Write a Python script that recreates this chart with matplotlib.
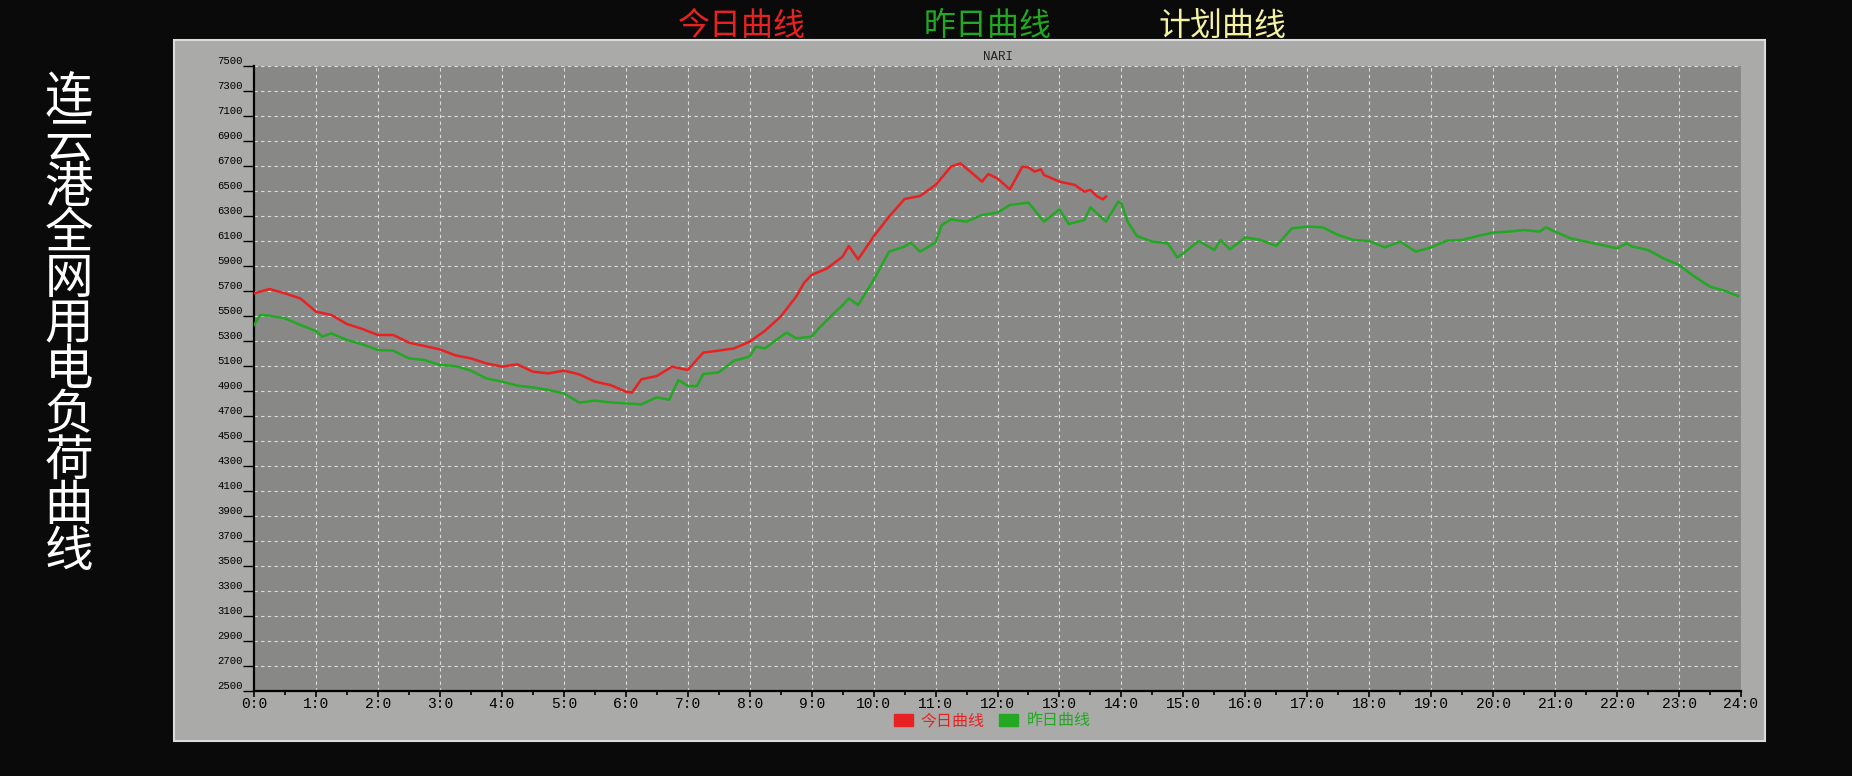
import matplotlib
matplotlib.use('Agg')
import matplotlib.pyplot as plt
from matplotlib.patches import Rectangle, Patch

plt.rcParams['font.family'] = ['Noto Sans CJK SC', 'DejaVu Sans']

# ── data (hours of day, load in MW) ─────────────────────
hours_today = [0, 0.25, 0.5, 0.75, 1.0, 1.25, 1.5, 1.75, 2.0, 2.25, 2.5, 2.75,
               3.0, 3.25, 3.5, 3.75, 4.0, 4.25, 4.5, 4.75, 5.0, 5.25, 5.5, 5.75,
               6.0, 6.1, 6.25, 6.5, 6.75, 7.0, 7.25, 7.5, 7.75, 8.0, 8.25, 8.5,
               8.75, 8.88, 9.0, 9.25, 9.5, 9.6, 9.75, 10.0, 10.25, 10.5, 10.75,
               11.0, 11.25, 11.4, 11.5, 11.75, 11.85, 12.0, 12.2, 12.4, 12.5,
               12.6, 12.7, 12.75, 13.0, 13.25, 13.4, 13.5, 13.6, 13.7, 13.75]
load_today = [5681, 5716, 5681, 5640, 5535, 5508, 5436, 5396, 5348, 5348, 5287, 5260,
              5233, 5185, 5161, 5121, 5095, 5113, 5055, 5041, 5063, 5033, 4975, 4948,
              4895, 4887, 4993, 5020, 5095, 5068, 5207, 5223, 5241, 5295, 5383, 5495,
              5655, 5767, 5828, 5881, 5975, 6060, 5953, 6135, 6295, 6436, 6460,
              6548, 6695, 6721, 6681, 6575, 6636, 6600, 6513, 6695, 6689,
              6655, 6673, 6628, 6575, 6548, 6495, 6508, 6460, 6433, 6455]

hours_yest = [0, 0.1, 0.25, 0.5, 0.75, 1.0, 1.1, 1.25, 1.5, 1.75, 2.0, 2.25, 2.5,
              2.75, 3.0, 3.25, 3.5, 3.75, 4.0, 4.25, 4.5, 4.75, 5.0, 5.25, 5.5,
              5.75, 6.0, 6.25, 6.5, 6.7, 6.85, 7.0, 7.15, 7.25, 7.5, 7.75, 8.0,
              8.1, 8.25, 8.5, 8.6, 8.75, 9.0, 9.1, 9.25, 9.5, 9.6, 9.75, 10.0,
              10.25, 10.5, 10.6, 10.75, 11.0, 11.1, 11.25, 11.5, 11.75, 12.0,
              12.2, 12.5, 12.75, 13.0, 13.15, 13.4, 13.5, 13.75, 13.95, 14.0,
              14.1, 14.25, 14.5, 14.75, 14.9, 15.0, 15.25, 15.5, 15.6, 15.75,
              16.0, 16.25, 16.5, 16.75, 17.0, 17.25, 17.5, 17.75, 18.0, 18.25,
              18.5, 18.75, 19.0, 19.25, 19.5, 19.75, 20.0, 20.25, 20.5, 20.75,
              20.85, 21.0, 21.25, 21.5, 21.75, 22.0, 22.15, 22.25, 22.5, 22.75,
              23.0, 23.25, 23.5, 23.75, 23.95]
load_yest = [5428, 5508, 5503, 5481, 5428, 5380, 5335, 5361, 5308, 5273, 5228, 5223, 5161,
             5148, 5108, 5100, 5063, 5001, 4975, 4943, 4929, 4908, 4881, 4807, 4823,
             4809, 4801, 4793, 4849, 4830, 4988, 4940, 4940, 5036, 5049, 5143, 5175,
             5255, 5241, 5335, 5367, 5321, 5335, 5393, 5468, 5588, 5641, 5588, 5788,
             6015, 6055, 6087, 6015, 6087, 6228, 6273, 6255, 6308, 6327,
             6388, 6407, 6255, 6353, 6236, 6268, 6369, 6255, 6415, 6401,
             6255, 6140, 6095, 6081, 5969, 6001, 6100, 6028, 6108, 6033,
             6129, 6108, 6060, 6201, 6215, 6209, 6148, 6108, 6100, 6049,
             6095, 6015, 6049, 6103, 6108, 6140, 6167, 6175, 6188, 6175,
             6209, 6175, 6121, 6095, 6068, 6041, 6081, 6055, 6028, 5961,
             5908, 5815, 5735, 5700, 5660]

hour_ticks = list(range(25))
hour_labels = [f'{h}:0' for h in hour_ticks]
load_ticks = list(range(2500, 7501, 200))

title = '连云港全网用电负荷曲线'
series_names = ['今日曲线', '昨日曲线', '计划曲线']
series_colors = ['#e82222', '#22a822', '#f4f2a0']

# ── layout in pixels of the 1852x776 canvas ─────────────
W, H = 1852, 776


def fx(px):
    return px / W


def fy(py):
    return 1 - py / H


fig = plt.figure(figsize=(W / 100, H / 100), dpi=100, facecolor='#0a0a0a')

panel = Rectangle((fx(174), fy(741)), fx(1765) - fx(174), fy(40) - fy(741),
                  transform=fig.transFigure, facecolor='#aaaaa8',
                  edgecolor='#dcdcdc', lw=1.5, zorder=-1)
fig.patches.append(panel)

ax = fig.add_axes([fx(254), fy(691), fx(1741) - fx(254), fy(66) - fy(691)])
ax.set_facecolor('#888886')

ax.plot(hours_yest, load_yest, color=series_colors[1], lw=1.8, zorder=3)
ax.plot(hours_today, load_today, color=series_colors[0], lw=1.8, zorder=4)

ax.set_xlim(0, 24)
ax.set_ylim(2500, 7500)
ax.set_xticks(hour_ticks, hour_labels, fontsize=10.5, fontfamily='Liberation Mono')
ax.set_xticks([h + 0.5 for h in range(24)], minor=True)
ax.set_yticks(load_ticks, [str(v) for v in load_ticks], fontsize=7.7,
              fontfamily='Liberation Mono', va='bottom')
ax.tick_params(axis='x', which='major', direction='out', length=4, width=1.2,
               pad=0.5, colors='black')
ax.tick_params(axis='x', which='minor', direction='out', length=3, width=1.2,
               colors='black')
ax.tick_params(axis='y', direction='out', length=8, width=1.0, pad=0,
               colors='black')

ax.set_axisbelow(True)
ax.grid(True, color='#dedede', ls=(0, (3, 3)), lw=0.8)

for side in ('top', 'right'):
    ax.spines[side].set_visible(False)
ax.spines['left'].set_linestyle((0, (1.5, 1)))
ax.spines['left'].set_linewidth(1.6)
ax.spines['bottom'].set_linewidth(1.6)

ax.set_title('NARI', fontsize=9, fontfamily='Liberation Mono', color='#222222', pad=4)

# top legend
for name, color, xc in zip(series_names, series_colors, [742, 988, 1223]):
    fig.text(fx(xc), fy(26), name, color=color, fontsize=23, ha='center', va='center')

# vertical title, one character per row
for i, ch in enumerate(title):
    fig.text(fx(69), fy(97 + 45.5 * i), ch, color='white', fontsize=35,
             ha='center', va='center')

# bottom legend
handles = [Patch(color=c) for c in series_colors[:2]]
leg = fig.legend(handles, series_names[:2], loc='center',
                 bbox_to_anchor=(fx(992), fy(721)), ncol=2, frameon=False,
                 fontsize=11.5, handlelength=1.2, handleheight=0.8,
                 handletextpad=0.5, columnspacing=0.9, borderpad=0.1)
for txt, c in zip(leg.get_texts(), series_colors[:2]):
    txt.set_color(c)

fig.savefig('out.png', dpi=100, facecolor=fig.get_facecolor())
